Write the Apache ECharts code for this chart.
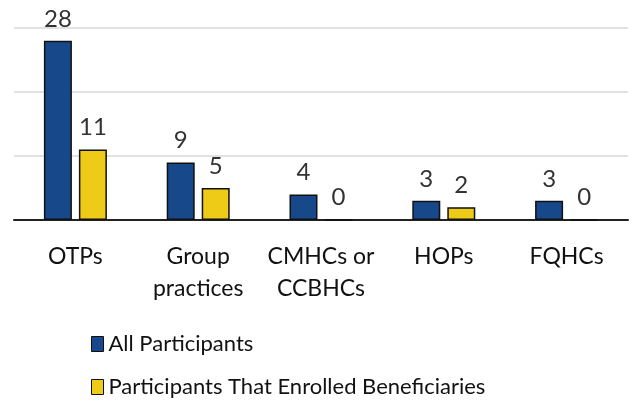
<!DOCTYPE html>
<html><head><meta charset="utf-8">
<script src="https://cdn.jsdelivr.net/npm/echarts@6/dist/echarts.min.js"></script>
<style>html,body{margin:0;padding:0;background:#fff}#c{width:632px;height:402px}</style>
</head><body><div id="c"></div>
<script>
const categories = ['OTPs', 'Group\npractices', 'CMHCs or\nCCBHCs', 'HOPs', 'FQHCs'];
const allParticipants = [28, 9, 4, 3, 3];
const enrolledParticipants = [11, 5, 0, 2, 0];
const seriesNames = ['All Participants', 'Participants That Enrolled Beneficiaries'];

const FONT = 'Lato';
const chart = echarts.init(document.getElementById('c'), null, {renderer: 'canvas'});
const lbl = {show: true, position: 'top', distance: 10, color: '#333', fontSize: 24, fontFamily: FONT};
chart.setOption({
  animation: false,
  grid: {left: 14, right: 4, top: 28, bottom: 182},
  legend: {
    orient: 'vertical', left: 86, top: 328, height: 80, itemGap: 21,
    itemWidth: 12, itemHeight: 15, icon: 'rect', itemStyle: {borderColor: '#111', borderWidth: 1},
    textStyle: {fontFamily: FONT, fontSize: 22, color: '#111', padding: [0,0,0,0]},
    data: seriesNames
  },
  xAxis: {
    type: 'category', data: categories,
    axisLine: {lineStyle: {color: '#222', width: 2}},
    axisTick: {show: false},
    axisLabel: {fontFamily: FONT, fontSize: 23, color: '#111', margin: 21, lineHeight: 32, interval: 0}
  },
  yAxis: {
    type: 'value', min: 0, max: 30, interval: 10,
    axisLabel: {show: false}, axisLine: {show: false}, axisTick: {show: false},
    splitLine: {lineStyle: {color: '#d9d9d9', width: 1.5}}
  },
  series: [
    {name: seriesNames[0], type: 'bar', data: allParticipants, barWidth: 28, barGap: '25%',
     itemStyle: {color: '#17488A', borderColor: '#111', borderWidth: 1.5}, label: lbl},
    {name: seriesNames[1], type: 'bar', data: enrolledParticipants, barWidth: 28,
     itemStyle: {color: '#EECB17', borderColor: '#111', borderWidth: 1.5}, label: lbl}
  ]
});
</script></body></html>
